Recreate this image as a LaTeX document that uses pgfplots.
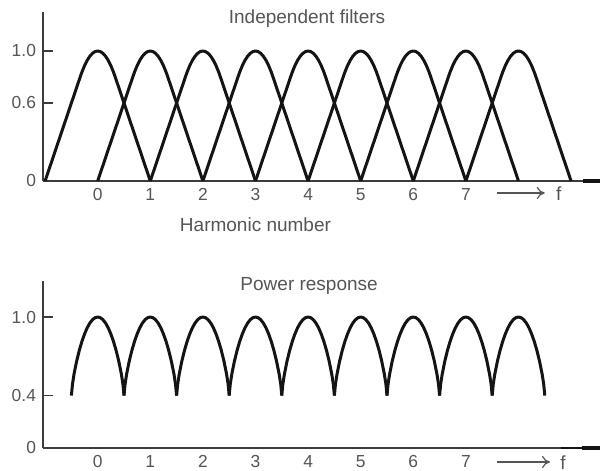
\documentclass[border=0pt]{standalone}
\usepackage{pgfplots}
\usepackage{pgfplotstable}
\pgfplotsset{compat=1.18}
\usetikzlibrary{arrows.meta}
\usepackage{fontspec}
\setmainfont{Liberation Sans}

\definecolor{ink}{RGB}{20,20,20}
\definecolor{axisgray}{RGB}{60,60,60}
\definecolor{labelgray}{RGB}{85,85,85}

% single band-pass filter response, centred on its harmonic
\pgfplotstableread{
x       y
-1.000  0.000
-0.500  0.600
-0.333  0.800
-0.300  0.838
-0.250  0.8875
-0.200  0.928
-0.150  0.9595
-0.100  0.982
-0.050  0.9955
0.000   1.000
0.050   0.9955
0.100   0.982
0.150   0.9595
0.200   0.928
0.250   0.8875
0.300   0.838
0.333   0.800
0.500   0.600
1.000   0.000
}\filtershape

% one lobe of the summed power response between two crossover points
\pgfplotstableread{
x       y
-0.500  0.400
-0.480  0.4864
-0.450  0.5638
-0.400  0.6637
-0.350  0.7452
-0.300  0.8136
-0.250  0.8707
-0.200  0.9173
-0.150  0.9534
-0.100  0.9793
-0.050  0.9948
0.000   1.000
0.050   0.9948
0.100   0.9793
0.150   0.9534
0.200   0.9173
0.250   0.8707
0.300   0.8136
0.350   0.7452
0.400   0.6637
0.450   0.5638
0.480   0.4864
0.500   0.400
}\powerlobe

\tikzset{
  farrow/.style={labelgray, line width=0.6pt, -{To[length=4pt,width=6pt]}},
  titletext/.style={text=labelgray, font=\fontsize{9.5}{11}\selectfont},
}

\pgfplotsset{
  panel/.style={
    scale only axis,
    width=278.5pt,
    xmin=-1.04, xmax=9.55,
    ymin=0,
    axis x line=bottom,
    axis y line=left,
    axis line style={-, draw=axisgray, line width=0.8pt},
    clip=false,
    tick align=inside,
    major tick length=5pt,
    xtick={0,1,2,3,4,5,6,7},
    xticklabels={0,1,2,3,4,5,6,7},
    x tick style={draw=none},
    y tick style={draw=axisgray, line width=0.8pt},
    tick label style={font=\fontsize{8.7}{10}\selectfont, text=labelgray},
    ytick pos=left,
  },
  curve/.style={ink, line width=1.5pt, line join=round, no marks},
}

\begin{document}
\begin{tikzpicture}
\useasboundingbox (0,0) rectangle (300pt,235.5pt);

% upper panel: responses of the separate filters
\begin{axis}[panel,
  at={(21.5pt,145pt)}, anchor=south west,
  height=84.5pt, ymax=1.3,
  ytick={0,0.6,1.0}, yticklabels={0,0.6,1.0}]
  \pgfplotsinvokeforeach{0,...,8}{
    \addplot[curve] table[x expr=\thisrow{x}+#1, y=y] {\filtershape};
  }
  \draw[ink, line width=2pt] (axis cs:9.23,0) -- (axis cs:9.55,0);
  \draw[farrow] ([yshift=-6pt]axis cs:7.6,0) -- ([yshift=-6pt]axis cs:8.5,0);
  \node[titletext, anchor=west] at ([yshift=-6.5pt]axis cs:8.58,0) {f};
  \node[titletext] at (axis cs:3.98,1.25) {Independent filters};
  \node[titletext] at (axis cs:3.0,0) [yshift=-22pt] {Harmonic number};
\end{axis}

% lower panel: combined power response
\begin{axis}[panel,
  at={(21.5pt,11.5pt)}, anchor=south west,
  height=83.5pt, ymax=1.275,
  ytick={0,0.4,1.0}, yticklabels={0,0.4,1.0}]
  \pgfplotsinvokeforeach{0,...,8}{
    \addplot[curve] table[x expr=\thisrow{x}+#1, y=y] {\powerlobe};
  }
  \draw[ink, line width=1.3pt] (axis cs:8.8,0) -- (axis cs:9.2,0);
  \draw[ink, line width=2pt] (axis cs:9.2,0) -- (axis cs:9.55,0);
  \draw[farrow] ([yshift=-7pt]axis cs:7.6,0) -- ([yshift=-7pt]axis cs:8.6,0);
  \node[titletext, anchor=west] at ([yshift=-7.5pt]axis cs:8.66,0) {f};
  \node[titletext] at (axis cs:4.02,1.24) {Power response};
\end{axis}
\end{tikzpicture}
\end{document}
